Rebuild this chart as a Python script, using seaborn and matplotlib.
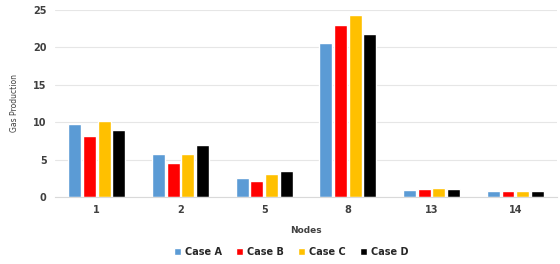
import pandas as pd
import matplotlib
matplotlib.use('Agg')
import matplotlib.pyplot as plt
import seaborn as sns

nodes = ['1', '2', '5', '8', '13', '14']
case_a = [9.8, 5.7, 2.5, 20.6, 0.9, 0.8]
case_b = [8.1, 4.6, 2.1, 23.0, 1.1, 0.8]
case_c = [10.1, 5.8, 3.1, 24.4, 1.2, 0.8]
case_d = [9.0, 7.0, 3.5, 21.8, 1.0, 0.8]
cases = ['Case A', 'Case B', 'Case C', 'Case D']
colors = ['#5B9BD5', '#FF0000', '#FFC000', '#000000']

rows = []
for case, vals in zip(cases, [case_a, case_b, case_c, case_d]):
    for n, v in zip(nodes, vals):
        rows.append({'node': n, 'case': case, 'gas': v})
df = pd.DataFrame(rows)

sns.set_style('white')
plt.rcParams['font.family'] = ['DejaVu Sans']

fig = plt.figure(figsize=(5.6, 2.64), dpi=100)
ax = fig.add_axes([0.098, 0.254, 0.897, 0.708])
sns.barplot(data=df, x='node', y='gas', hue='case', order=nodes,
            hue_order=cases, palette=colors, saturation=1, width=0.7, gap=0.12,
            ax=ax, legend=True)

ax.set_ylim(0, 25)
ax.set_yticks([0, 5, 10, 15, 20, 25])
ax.yaxis.grid(True, color='#e6e6e6', linewidth=0.8)
ax.set_axisbelow(True)
for s in ['top', 'right', 'left']:
    ax.spines[s].set_visible(False)
ax.spines['bottom'].set_color('#d9d9d9')
ax.tick_params(axis='both', length=0, labelsize=7, colors='#404040', pad=6)
for lab in ax.get_xticklabels() + ax.get_yticklabels():
    lab.set_fontweight('bold')
ax.set_xlabel('Nodes', fontsize=6.5, fontweight='bold', color='#404040', labelpad=8)
ax.set_ylabel('Gas Production', fontsize=5.5, color='#404040', labelpad=10)

ax.legend_.remove()
handles, labels = ax.get_legend_handles_labels()
fig.legend(handles, labels, loc='center', bbox_to_anchor=(0.52, 0.045),
           ncol=4, frameon=False, handlelength=0.7, handleheight=0.7,
           columnspacing=1.5, handletextpad=0.4,
           prop={'weight': 'bold', 'size': 7})

fig.savefig('out.png', dpi=100)
